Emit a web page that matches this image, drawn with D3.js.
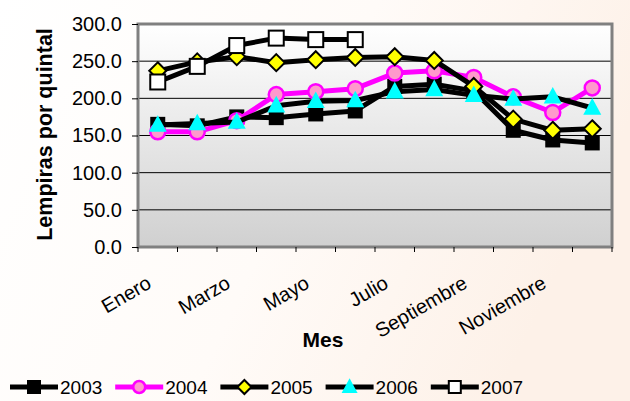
<!DOCTYPE html>
<html>
<head>
<meta charset="utf-8">
<script src="https://cdn.jsdelivr.net/npm/d3@7"></script>
<style>
  body { margin: 0; background: #fff; }
  svg { display: block; font-family: "Liberation Sans", Arial, sans-serif; }
</style>
</head>
<body>
<svg id="chart" width="630" height="401"></svg>
<script>
var months = ["Enero", "Febrero", "Marzo", "Abril", "Mayo", "Junio",
              "Julio", "Agosto", "Septiembre", "Octubre", "Noviembre", "Diciembre"];
var years = ["2003", "2004", "2005", "2006", "2007"];

var v2003 = [165, 163, 175, 174, 179, 183, 216, 219, 210, 157, 144, 140];
var v2004 = [155, 155, 170, 205, 209, 213, 234, 237, 228, 202, 181, 214];
var v2005 = [237, 249, 256, 248, 252, 255, 256, 251, 216, 172, 157, 159];
var v2006 = [164, 166, 168, 190, 196, 197, 209, 212, 204, 199, 202, 187];
var v2007 = [222, 243, 271, 281, 279, 279, null, null, null, null, null, null];

var yTicks = [0, 50, 100, 150, 200, 250, 300];

var series = [
  {name: years[0], values: v2003, line: "#000", shape: "square", fill: "#000", stroke: "#000", size: 13},
  {name: years[1], values: v2004, line: "#ff00ff", shape: "circle", fill: "#ff99cc", stroke: "#ff00ff", size: 7.5},
  {name: years[2], values: v2005, line: "#000", shape: "diamond", fill: "#ffff00", stroke: "#000", size: 8.5},
  {name: years[3], values: v2006, line: "#000", shape: "triangle", fill: "#00ffff", stroke: "none", size: 9},
  {name: years[4], values: v2007, line: "#000", shape: "square", fill: "#fff", stroke: "#000", size: 15}
];

var FONT = "'Liberation Sans', Arial, sans-serif";

var svg = d3.select("#chart"),
    margin = {top: 24, right: 18, bottom: 154, left: 138},
    width = 630 - margin.left - margin.right,
    height = 401 - margin.top - margin.bottom;

var defs = svg.append("defs");
var bg = defs.append("linearGradient").attr("id", "bg")
    .attr("x1", "0").attr("y1", "0").attr("x2", "1").attr("y2", "0.3");
bg.append("stop").attr("offset", "0").attr("stop-color", "#ffffff");
bg.append("stop").attr("offset", "0.55").attr("stop-color", "#fffbf8");
bg.append("stop").attr("offset", "1").attr("stop-color", "#fdf1e8");

var plotBg = defs.append("linearGradient").attr("id", "plotBg")
    .attr("x1", "0").attr("y1", "0").attr("x2", "0").attr("y2", "1");
plotBg.append("stop").attr("offset", "0").attr("stop-color", "#ffffff");
plotBg.append("stop").attr("offset", "1").attr("stop-color", "#d0d0d0");

svg.append("rect").attr("width", 630).attr("height", 401).attr("fill", "url(#bg)");

var g = svg.append("g")
    .attr("transform", "translate(" + margin.left + "," + margin.top + ")");

var x = d3.scaleBand().domain(months).range([0, width]).padding(0);
var y = d3.scaleLinear().domain([0, 300]).range([height, 0]);

// plot area
g.append("rect")
    .attr("width", width).attr("height", height)
    .attr("fill", "url(#plotBg)");

// gridlines
g.append("g")
  .selectAll("line")
  .data(yTicks.slice(1, -1))
  .enter().append("line")
    .attr("x1", 0).attr("x2", width)
    .attr("y1", function(d) { return y(d); })
    .attr("y2", function(d) { return y(d); })
    .attr("stroke", "#000").attr("stroke-width", 1);

g.append("rect")
    .attr("width", width).attr("height", height)
    .attr("fill", "none").attr("stroke", "#808080").attr("stroke-width", 3);

// y axis
var yAxis = g.append("g")
    .call(d3.axisLeft(y).tickValues(yTicks).tickSize(6).tickPadding(10)
      .tickFormat(d3.format(".1f")));
yAxis.select(".domain").remove();
yAxis.selectAll("line").attr("stroke", "#000");
yAxis.selectAll("text").attr("font-size", "20px").attr("fill", "#000")
    .attr("font-family", FONT);

// x axis ticks on category boundaries
var bounds = months.map(function(m) { return x(m); }).concat([width]);
g.append("g")
  .selectAll("line")
  .data(bounds)
  .enter().append("line")
    .attr("x1", function(d) { return d; }).attr("x2", function(d) { return d; })
    .attr("y1", height).attr("y2", height + 5)
    .attr("stroke", "#000");

g.append("g")
  .selectAll("text")
  .data(months.filter(function(d, i) { return i % 2 === 0; }))
  .enter().append("text")
    .attr("transform", function(d) {
      return "translate(" + (x(d) + x.bandwidth() / 2 - 5) + "," + (height + 40) + ") rotate(-30)";
    })
    .attr("text-anchor", "end")
    .attr("font-size", "20px")
    .attr("font-family", FONT)
    .text(function(d) { return d; });

// axis titles
svg.append("text")
    .attr("x", 323).attr("y", 347)
    .attr("text-anchor", "middle")
    .attr("font-size", "21px").attr("font-weight", "bold")
    .attr("font-family", FONT)
    .text("Mes");

svg.append("text")
    .attr("transform", "translate(52," + (margin.top + height / 2 - 1) + ") rotate(-90)")
    .attr("text-anchor", "middle")
    .attr("font-size", "21.5px").attr("font-weight", "bold")
    .attr("font-family", FONT)
    .text("Lempiras por quintal");

function marker(sel, s) {
  if (s.shape === "circle") {
    sel.append("circle").attr("r", s.size)
      .attr("fill", s.fill).attr("stroke", s.stroke).attr("stroke-width", 2.5);
  } else if (s.shape === "square") {
    sel.append("rect")
      .attr("x", -s.size / 2).attr("y", -s.size / 2)
      .attr("width", s.size).attr("height", s.size)
      .attr("fill", s.fill).attr("stroke", s.stroke).attr("stroke-width", 2);
  } else if (s.shape === "diamond") {
    sel.append("path")
      .attr("d", "M0," + (-s.size) + "L" + s.size + ",0L0," + s.size + "L" + (-s.size) + ",0Z")
      .attr("fill", s.fill).attr("stroke", s.stroke).attr("stroke-width", 2);
  } else if (s.shape === "triangle") {
    sel.append("path")
      .attr("d", "M0," + (-s.size * 1.1) + "L" + s.size + "," + (s.size * 0.75) + "L" + (-s.size) + "," + (s.size * 0.75) + "Z")
      .attr("fill", s.fill);
  }
}

var line = d3.line()
    .defined(function(d) { return d.v != null; })
    .x(function(d) { return x(d.m) + x.bandwidth() / 2; })
    .y(function(d) { return y(d.v); });

series.forEach(function(s) {
  var pts = months.map(function(m, i) { return {m: m, v: s.values[i]}; });
  var sg = g.append("g").attr("class", "series");
  sg.append("path")
      .datum(pts)
      .attr("fill", "none")
      .attr("stroke", s.line)
      .attr("stroke-width", 5)
      .attr("stroke-linejoin", "round")
      .attr("d", line);
  sg.selectAll("g.pt")
      .data(pts.filter(function(d) { return d.v != null; }))
      .enter().append("g")
      .attr("class", "pt")
      .attr("transform", function(d) {
        return "translate(" + (x(d.m) + x.bandwidth() / 2) + "," + y(d.v) + ")";
      })
      .each(function() { marker(d3.select(this), s); });
});

// legend
var legend = svg.append("g").attr("transform", "translate(10,387)");
var item = legend.selectAll("g")
    .data(series)
    .enter().append("g")
    .attr("transform", function(d, i) { return "translate(" + (i * 105.2) + ",0)"; });

item.append("line")
    .attr("x1", 0).attr("x2", 48)
    .attr("stroke", function(d) { return d.line; })
    .attr("stroke-width", 5);

item.append("g")
    .attr("transform", "translate(24,0)")
    .each(function(d) {
      var s = Object.assign({}, d);
      s.size = d.shape === "circle" ? 6 : d.shape === "square" ? 12 : d.shape === "diamond" ? 7 : 8;
      marker(d3.select(this), s);
    });

item.append("text")
    .attr("x", 50).attr("y", 7)
    .attr("font-size", "19px")
    .attr("font-family", FONT)
    .text(function(d) { return d.name; });
</script>
</body>
</html>
